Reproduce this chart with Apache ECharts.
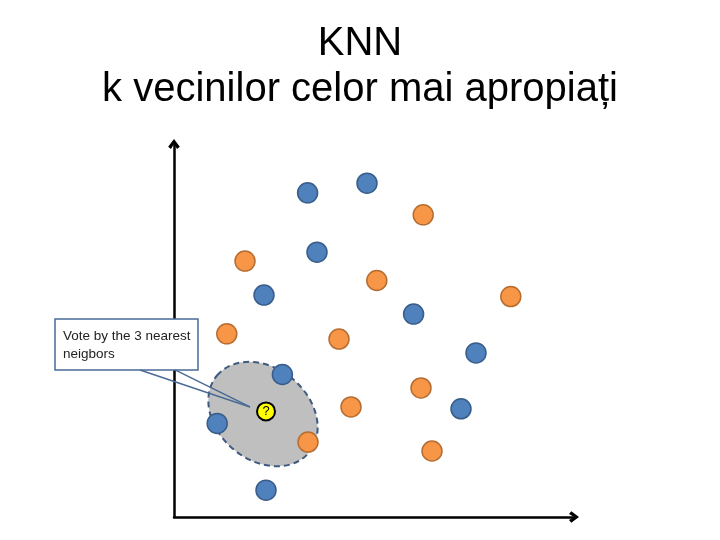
<!DOCTYPE html>
<html>
<head>
<meta charset="utf-8">
<script src="https://cdn.jsdelivr.net/npm/echarts@6/dist/echarts.min.js"></script>
<style>
html,body{margin:0;padding:0;background:#fff;}
#chart{width:720px;height:540px;}
</style>
</head>
<body>
<div id="chart"></div>
<script>
// ---- data (axis units 0..100) ----
const titleLine1 = 'KNN';
const titleLine2 = 'k vecinilor celor mai apropiați';
const calloutText = 'Vote by the 3 nearest\nneigbors';

const blueX = [33.4, 48.25, 35.75, 22.5, 59.9, 75.5, 27.1, 10.8, 71.75, 23.0];
const blueY = [86.9, 89.5, 71.0, 59.5, 54.4, 44.0, 38.2, 25.1, 29.0, 7.2];

const orangeX = [62.3, 17.75, 50.7, 84.2, 13.2, 41.25, 61.75, 44.25, 33.5, 64.5];
const orangeY = [81.0, 68.6, 63.4, 59.1, 49.1, 47.7, 34.6, 29.5, 20.1, 17.7];

const queryX = [23.0];
const queryY = [28.3];

// neighbourhood ellipse: centre x, centre y, semi-axes (x-axis units)
const hoodCenter = [22.25, 27.6];
const hoodSemiAxes = [15.0, 11.5];

const pairs = (xs, ys) => xs.map((x, i) => [x, ys[i]]);

const chart = echarts.init(document.getElementById('chart'), null, {renderer: 'canvas'});

const arrowPath = 'path://M5,0 L10,6.6 L7.6,8.6 L5,4.2 L2.4,8.6 L0,6.6 Z';

const option = {
  backgroundColor: '#ffffff',
  animation: false,
  title: [
    {text: titleLine1, left: 'center', top: 24, padding: 0,
     textStyle: {fontFamily: 'Liberation Sans', fontSize: 40, fontWeight: 'normal', color: '#000', lineHeight: 40}},
    {text: titleLine2, left: 'center', top: 70, padding: 0,
     textStyle: {fontFamily: 'Liberation Sans', fontSize: 40, fontWeight: 'normal', color: '#000', lineHeight: 40}}
  ],
  grid: {left: 174, right: 146, top: 144, bottom: 23, containLabel: false},
  xAxis: {
    type: 'value', min: 0, max: 100,
    axisLine: {show: true, onZero: false, symbol: ['none', arrowPath], symbolSize: [12, 10],
      lineStyle: {color: '#000', width: 2.5}},
    axisTick: {show: false}, axisLabel: {show: false}, splitLine: {show: false}
  },
  yAxis: {
    type: 'value', min: 0, max: 100,
    axisLine: {show: true, onZero: false, symbol: ['none', arrowPath], symbolSize: [12, 10],
      lineStyle: {color: '#000', width: 2.5}},
    axisTick: {show: false}, axisLabel: {show: false}, splitLine: {show: false}
  },
  series: [
    {
      type: 'custom', name: 'hood', z: 1, silent: true,
      data: [[hoodCenter[0], hoodCenter[1]]],
      renderItem: function (params, api) {
        const c = api.coord([api.value(0), api.value(1)]);
        const unit = api.size([1, 1]);
        return {
          type: 'ellipse',
          x: c[0], y: c[1],
          rotation: -40 * Math.PI / 180,
          shape: {cx: 0, cy: 0, rx: hoodSemiAxes[0] * unit[0], ry: hoodSemiAxes[1] * unit[0]},
          style: {fill: '#bfbfbf', stroke: '#3e5a80', lineWidth: 2, lineDash: [6, 4]}
        };
      }
    },
    {
      type: 'scatter', name: 'blue', z: 3, symbol: 'circle', symbolSize: 20,
      data: pairs(blueX, blueY),
      itemStyle: {color: '#4f81bd', borderColor: '#385d8a', borderWidth: 1.5, opacity: 1}
    },
    {
      type: 'scatter', name: 'orange', z: 3, symbol: 'circle', symbolSize: 20,
      data: pairs(orangeX, orangeY),
      itemStyle: {color: '#f79646', borderColor: '#b66d31', borderWidth: 1.5, opacity: 1}
    },
    {
      type: 'scatter', name: 'query', z: 4, symbol: 'circle', symbolSize: 18,
      data: pairs(queryX, queryY),
      itemStyle: {color: '#ffff00', borderColor: '#000', borderWidth: 2, opacity: 1},
      label: {show: true, position: 'inside', formatter: '?', color: '#000',
        fontFamily: 'Liberation Sans', fontSize: 13}
    },
    {
      type: 'custom', name: 'callout', z: 5, silent: true, clip: false,
      data: pairs(queryX, queryY),
      renderItem: function (params, api) {
        const p = api.coord([api.value(0), api.value(1)]);
        const bx = p[0] - 211, by = p[1] - 92.5, bw = 143, bh = 51;
        const stroke = '#4a6b96';
        return {
          type: 'group',
          children: [
            {type: 'rect', shape: {x: bx, y: by, width: bw, height: bh},
             style: {fill: '#fff', stroke: stroke, lineWidth: 1.5}},
            {type: 'line', shape: {x1: bx + 85, y1: by + bh, x2: p[0] - 16, y2: p[1] - 4.5},
             style: {stroke: stroke, lineWidth: 1.5}},
            {type: 'line', shape: {x1: bx + 120, y1: by + bh, x2: p[0] - 16, y2: p[1] - 4.5},
             style: {stroke: stroke, lineWidth: 1.5}},
            {type: 'text', x: bx + 8, y: by + 8,
             style: {text: calloutText, fill: '#222', font: '13.5px "Liberation Sans"',
               lineHeight: 18, verticalAlign: 'top', align: 'left'}}
          ]
        };
      }
    }
  ]
};
chart.setOption(option);
</script>
</body>
</html>
